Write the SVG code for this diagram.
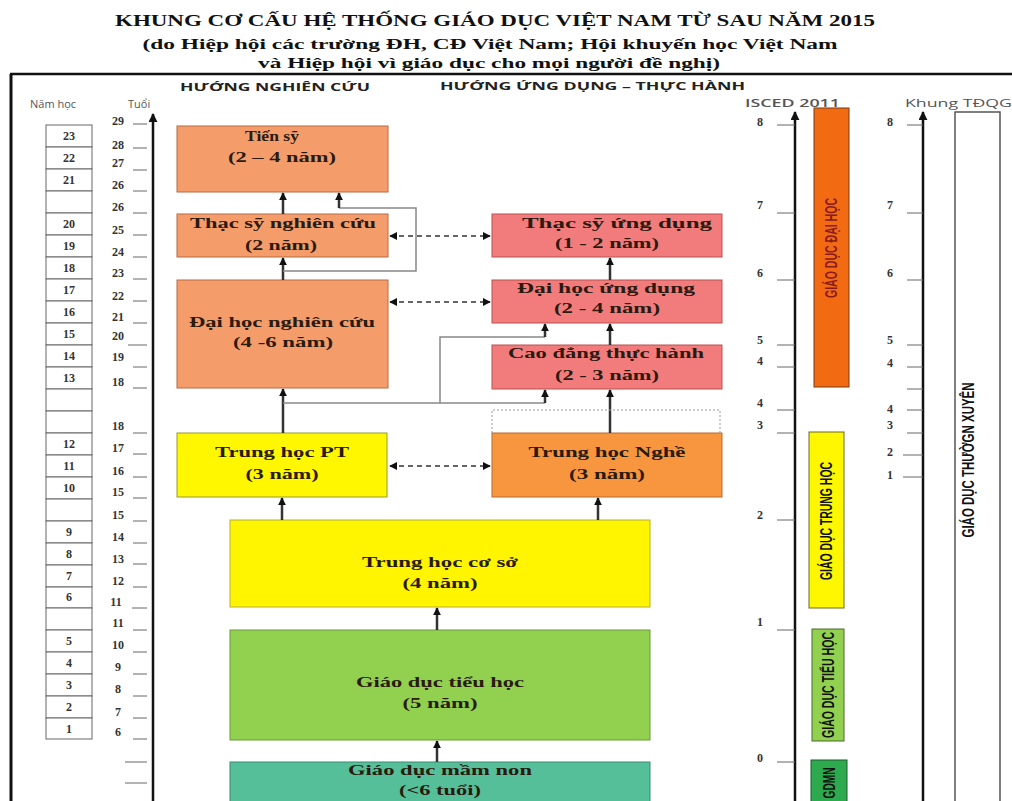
<svg xmlns="http://www.w3.org/2000/svg" width="1012" height="801" viewBox="0 0 1012 801">
<style>
.title{font-family:"Liberation Serif",serif;font-weight:bold;fill:#111}
.hdr{font-family:"Open Sans","Liberation Sans",sans-serif;font-weight:bold;font-size:11px;fill:#222}
.lbl{font-family:"Open Sans","Liberation Sans",sans-serif;font-size:11px;fill:#555}
.num{font-family:"Liberation Serif",serif;font-weight:bold;font-size:12px;fill:#333;text-anchor:middle}
.bt{font-family:"Liberation Serif",serif;font-weight:bold;font-size:15px;fill:#2a1a10;text-anchor:middle}
.vt{font-family:"Liberation Sans Narrow","Liberation Sans",sans-serif;font-weight:bold;font-size:16px;text-anchor:middle}
.tick{stroke:#666;stroke-width:1}
.axis{stroke:#111;stroke-width:2.5;fill:none}
.cell{fill:#fff;stroke:#666;stroke-width:1}
.conn{stroke:#333;stroke-width:2.5;fill:none}
.by{stroke:#888;stroke-width:1.5;fill:none}
.dash{stroke:#333;stroke-width:1.5;stroke-dasharray:5,4;fill:none}
</style>
<defs>
<marker id="ah" viewBox="0 0 10 10" refX="9" refY="5" markerWidth="8" markerHeight="8" markerUnits="userSpaceOnUse" orient="auto-start-reverse"><path d="M0,0 L10,5 L0,10 z" fill="#111"/></marker>
<marker id="ax" viewBox="0 0 10 10" refX="9" refY="5" markerWidth="9" markerHeight="9" markerUnits="userSpaceOnUse" orient="auto"><path d="M0,0 L10,5 L0,10 z" fill="#111"/></marker>
</defs>
<rect width="1012" height="801" fill="#fff"/>
<g id="title">
<text class="title" x="495" y="26" font-size="16.5" text-anchor="middle" textLength="760" lengthAdjust="spacingAndGlyphs">KHUNG CƠ CẤU HỆ THỐNG GIÁO DỤC VIỆT NAM TỪ SAU NĂM 2015</text>
<text class="title" x="490" y="49" font-size="15.5" text-anchor="middle" textLength="695" lengthAdjust="spacingAndGlyphs">(do Hiệp hội các trường ĐH, CĐ Việt Nam; Hội khuyến học Việt Nam</text>
<text class="title" x="489" y="68" font-size="15.5" text-anchor="middle" textLength="462" lengthAdjust="spacingAndGlyphs">và Hiệp hội vì giáo dục cho mọi người đề nghị)</text>
</g>
<g id="frame">
<line x1="10" y1="74" x2="1012" y2="74" stroke="#111" stroke-width="2.5"/>
<line x1="11" y1="74" x2="11" y2="801" stroke="#111" stroke-width="3"/>
</g>
<g id="headers">
<text class="hdr" x="180" y="91" textLength="190" lengthAdjust="spacingAndGlyphs">HƯỚNG NGHIÊN CỨU</text>
<text class="hdr" x="440" y="90" textLength="305" lengthAdjust="spacingAndGlyphs">HƯỚNG ỨNG DỤNG – THỰC HÀNH</text>
<text class="lbl" x="30" y="108">Năm học</text>
<text class="lbl" x="128" y="108">Tuổi</text>
<text class="lbl" x="745" y="107" font-weight="600" textLength="95" lengthAdjust="spacingAndGlyphs">ISCED 2011</text>
<text class="lbl" x="905" y="107" textLength="107" lengthAdjust="spacingAndGlyphs">Khung TĐQG</text>
</g>
<g id="nam-hoc">
<rect class="cell" x="46" y="125" width="46" height="22"/><text class="num" x="69" y="140">23</text>
<rect class="cell" x="46" y="147" width="46" height="22"/><text class="num" x="69" y="162">22</text>
<rect class="cell" x="46" y="169" width="46" height="22"/><text class="num" x="69" y="184">21</text>
<rect class="cell" x="46" y="191" width="46" height="22"/>
<rect class="cell" x="46" y="213" width="46" height="22"/><text class="num" x="69" y="228">20</text>
<rect class="cell" x="46" y="235" width="46" height="22"/><text class="num" x="69" y="250">19</text>
<rect class="cell" x="46" y="257" width="46" height="22"/><text class="num" x="69" y="272">18</text>
<rect class="cell" x="46" y="279" width="46" height="22"/><text class="num" x="69" y="294">17</text>
<rect class="cell" x="46" y="301" width="46" height="22"/><text class="num" x="69" y="316">16</text>
<rect class="cell" x="46" y="323" width="46" height="22"/><text class="num" x="69" y="338">15</text>
<rect class="cell" x="46" y="345" width="46" height="22"/><text class="num" x="69" y="360">14</text>
<rect class="cell" x="46" y="367" width="46" height="22"/><text class="num" x="69" y="382">13</text>
<rect class="cell" x="46" y="389" width="46" height="22"/>
<rect class="cell" x="46" y="411" width="46" height="22"/>
<rect class="cell" x="46" y="433" width="46" height="22"/><text class="num" x="69" y="448">12</text>
<rect class="cell" x="46" y="455" width="46" height="22"/><text class="num" x="69" y="470">11</text>
<rect class="cell" x="46" y="477" width="46" height="22"/><text class="num" x="69" y="492">10</text>
<rect class="cell" x="46" y="499" width="46" height="22"/>
<rect class="cell" x="46" y="521" width="46" height="22"/><text class="num" x="69" y="536">9</text>
<rect class="cell" x="46" y="543" width="46" height="22"/><text class="num" x="69" y="558">8</text>
<rect class="cell" x="46" y="565" width="46" height="22"/><text class="num" x="69" y="580">7</text>
<rect class="cell" x="46" y="587" width="46" height="21"/><text class="num" x="69" y="601">6</text>
<rect class="cell" x="46" y="608" width="46" height="22"/>
<rect class="cell" x="46" y="630" width="46" height="22"/><text class="num" x="69" y="645">5</text>
<rect class="cell" x="46" y="652" width="46" height="22"/><text class="num" x="69" y="667">4</text>
<rect class="cell" x="46" y="674" width="46" height="22"/><text class="num" x="69" y="689">3</text>
<rect class="cell" x="46" y="696" width="46" height="22"/><text class="num" x="69" y="711">2</text>
<rect class="cell" x="46" y="718" width="46" height="21"/><text class="num" x="69" y="733">1</text>
</g>
<g id="tuoi-axis">
<line class="axis" x1="153" y1="801" x2="153" y2="114" marker-end="url(#ax)"/>
<g class="num">
<text x="118" y="125">29</text><text x="118" y="149">28</text><text x="118" y="167">27</text><text x="118" y="189">26</text>
<text x="118" y="211">26</text><text x="118" y="234">25</text><text x="118" y="256">24</text><text x="118" y="277">23</text>
<text x="118" y="300">22</text><text x="118" y="321">21</text><text x="118" y="340">20</text><text x="118" y="361">19</text>
<text x="118" y="386">18</text><text x="118" y="430">18</text><text x="118" y="452">17</text><text x="118" y="475">16</text>
<text x="118" y="496">15</text><text x="118" y="519">15</text><text x="118" y="541">14</text><text x="118" y="563">13</text>
<text x="118" y="585">12</text><text x="116" y="606">11</text><text x="118" y="627">11</text><text x="118" y="649">10</text>
<text x="118" y="671">9</text><text x="118" y="693">8</text><text x="118" y="716">7</text><text x="118" y="736">6</text>
</g>
<g class="tick">
<line x1="133" y1="124" x2="147" y2="124"/><line x1="133" y1="148" x2="147" y2="148"/><line x1="133" y1="170" x2="147" y2="170"/>
<line x1="133" y1="191" x2="147" y2="191"/><line x1="133" y1="213" x2="147" y2="213"/><line x1="133" y1="235" x2="147" y2="235"/>
<line x1="133" y1="257" x2="147" y2="257"/><line x1="133" y1="279" x2="147" y2="279"/><line x1="133" y1="301" x2="147" y2="301"/>
<line x1="133" y1="323" x2="147" y2="323"/><line x1="128" y1="345" x2="147" y2="345"/><line x1="133" y1="367" x2="147" y2="367"/>
<line x1="133" y1="388" x2="147" y2="388"/><line x1="133" y1="433" x2="147" y2="433"/><line x1="133" y1="454" x2="147" y2="454"/>
<line x1="133" y1="477" x2="147" y2="477"/><line x1="133" y1="498" x2="147" y2="498"/><line x1="133" y1="521" x2="147" y2="521"/>
<line x1="133" y1="543" x2="147" y2="543"/><line x1="133" y1="564" x2="147" y2="564"/><line x1="133" y1="587" x2="147" y2="587"/>
<line x1="132" y1="608" x2="147" y2="608"/><line x1="133" y1="630" x2="147" y2="630"/><line x1="133" y1="652" x2="147" y2="652"/>
<line x1="133" y1="674" x2="147" y2="674"/><line x1="133" y1="696" x2="147" y2="696"/><line x1="133" y1="718" x2="147" y2="718"/>
<line x1="133" y1="739" x2="147" y2="739"/><line x1="125" y1="762" x2="147" y2="762"/><line x1="125" y1="783" x2="147" y2="783"/>
</g>
</g>
<g id="tien-sy"><rect x="177" y="126" width="211" height="66" fill="#F49D6B" stroke="#B86A45"/><text class="bt" x="272" y="141" textLength="54" lengthAdjust="spacingAndGlyphs">Tiến sỹ</text><text class="bt" x="282" y="162" textLength="108" lengthAdjust="spacingAndGlyphs">(2 – 4 năm)</text></g>
<g id="thac-sy-nc"><rect x="177" y="214" width="211" height="43" fill="#F49D6B" stroke="#B86A45"/><text class="bt" x="283" y="228" textLength="186" lengthAdjust="spacingAndGlyphs">Thạc sỹ nghiên cứu</text><text class="bt" x="281" y="250" textLength="72" lengthAdjust="spacingAndGlyphs">(2 năm)</text></g>
<g id="dai-hoc-nc"><rect x="177" y="280" width="211" height="108" fill="#F49D6B" stroke="#B86A45"/><text class="bt" x="282" y="327" textLength="186" lengthAdjust="spacingAndGlyphs">Đại học nghiên cứu</text><text class="bt" x="283" y="347" textLength="100" lengthAdjust="spacingAndGlyphs">(4 -6 năm)</text></g>
<g id="thac-sy-ud"><rect x="492" y="214" width="230" height="43" fill="#F27C7C" stroke="#B85050"/><text class="bt" x="617" y="228" textLength="190" lengthAdjust="spacingAndGlyphs">Thạc sỹ ứng dụng</text><text class="bt" x="607" y="248" textLength="104" lengthAdjust="spacingAndGlyphs">(1 - 2 năm)</text></g>
<g id="dai-hoc-ud"><rect x="492" y="280" width="230" height="43" fill="#F27C7C" stroke="#B85050"/><text class="bt" x="606" y="293" textLength="178" lengthAdjust="spacingAndGlyphs">Đại học ứng dụng</text><text class="bt" x="607" y="313" textLength="106" lengthAdjust="spacingAndGlyphs">(2 - 4 năm)</text></g>
<g id="cao-dang"><rect x="492" y="345" width="230" height="44" fill="#F27C7C" stroke="#B85050"/><text class="bt" x="606" y="358" textLength="196" lengthAdjust="spacingAndGlyphs">Cao đẳng thực hành</text><text class="bt" x="607" y="380" textLength="104" lengthAdjust="spacingAndGlyphs">(2 - 3 năm)</text></g>
<g id="trung-hoc-pt"><rect x="177" y="433" width="210" height="64" fill="#FFF700" stroke="#9A9A30"/><text class="bt" x="282" y="457" textLength="134" lengthAdjust="spacingAndGlyphs">Trung học PT</text><text class="bt" x="282" y="479" textLength="73" lengthAdjust="spacingAndGlyphs">(3 năm)</text></g>
<g id="trung-hoc-nghe"><rect x="492" y="433" width="230" height="64" fill="#F7963E" stroke="#B86A30"/><text class="bt" x="607" y="457" textLength="157" lengthAdjust="spacingAndGlyphs">Trung học Nghề</text><text class="bt" x="607" y="479" textLength="76" lengthAdjust="spacingAndGlyphs">(3 năm)</text></g>
<g id="thcs"><rect x="230" y="520" width="420" height="87" fill="#FFF500" stroke="#B8B030"/><text class="bt" x="440" y="567" textLength="156" lengthAdjust="spacingAndGlyphs">Trung học cơ sở</text><text class="bt" x="440" y="588" textLength="75" lengthAdjust="spacingAndGlyphs">(4 năm)</text></g>
<g id="tieu-hoc"><rect x="230" y="630" width="420" height="110" fill="#92D050" stroke="#6A9A3A"/><text class="bt" x="440" y="687" textLength="168" lengthAdjust="spacingAndGlyphs">Giáo dục tiểu học</text><text class="bt" x="440" y="708" textLength="75" lengthAdjust="spacingAndGlyphs">(5 năm)</text></g>
<g id="mam-non"><rect x="230" y="762" width="420" height="45" fill="#54BF98" stroke="#3A8A70"/><text class="bt" x="440" y="775" textLength="184" lengthAdjust="spacingAndGlyphs">Giáo dục mầm non</text><text class="bt" x="440" y="795" textLength="82" lengthAdjust="spacingAndGlyphs">(&lt;6 tuổi)</text></g>
<g id="connectors">
<line class="conn" x1="283" y1="214" x2="283" y2="193" marker-end="url(#ah)"/>
<line class="conn" x1="283" y1="280" x2="283" y2="258" marker-end="url(#ah)"/>
<line class="conn" x1="283" y1="433" x2="283" y2="389" marker-end="url(#ah)"/>
<line class="conn" x1="610" y1="280" x2="610" y2="258" marker-end="url(#ah)"/>
<line class="conn" x1="610" y1="345" x2="610" y2="324" marker-end="url(#ah)"/>
<line class="conn" x1="610" y1="433" x2="610" y2="390" marker-end="url(#ah)"/>
<line class="conn" x1="282" y1="520" x2="282" y2="498" marker-end="url(#ah)"/>
<line class="conn" x1="598" y1="520" x2="598" y2="498" marker-end="url(#ah)"/>
<line class="conn" x1="437" y1="630" x2="437" y2="608" marker-end="url(#ah)"/>
<line class="conn" x1="437" y1="762" x2="437" y2="741" marker-end="url(#ah)"/>
<path class="by" d="M283,271 H416 V208 H339"/>
<line class="conn" x1="339" y1="208" x2="339" y2="193" marker-end="url(#ah)"/>
<path class="by" d="M283,403 H545"/>
<line class="conn" x1="545" y1="403" x2="545" y2="390" marker-end="url(#ah)"/>
<path class="by" d="M440,403 V337 H545"/>
<line class="conn" x1="545" y1="337" x2="545" y2="324" marker-end="url(#ah)"/>
<line class="dash" x1="390" y1="236" x2="490" y2="236" marker-start="url(#ah)" marker-end="url(#ah)"/>
<line class="dash" x1="390" y1="302" x2="490" y2="302" marker-start="url(#ah)" marker-end="url(#ah)"/>
<line class="dash" x1="390" y1="466" x2="490" y2="466" marker-start="url(#ah)" marker-end="url(#ah)"/>
<path d="M492,433 V410 H720 V433" fill="none" stroke="#999" stroke-width="1" stroke-dasharray="2,2"/>
</g>
<g id="isced">
<line class="axis" x1="795" y1="801" x2="795" y2="112" marker-end="url(#ax)"/>
<g class="num">
<text x="760" y="126">8</text><text x="760" y="209">7</text><text x="760" y="277">6</text><text x="760" y="344">5</text>
<text x="760" y="365">4</text><text x="760" y="407">4</text><text x="760" y="429">3</text><text x="760" y="519">2</text>
<text x="760" y="626">1</text><text x="760" y="762">0</text>
</g>
<g class="tick">
<line x1="777" y1="125" x2="795" y2="125"/><line x1="777" y1="213" x2="795" y2="213"/><line x1="777" y1="280" x2="795" y2="280"/>
<line x1="777" y1="345" x2="795" y2="345"/><line x1="777" y1="367" x2="795" y2="367"/><line x1="777" y1="410" x2="795" y2="410"/>
<line x1="777" y1="433" x2="795" y2="433"/><line x1="777" y1="520" x2="795" y2="520"/><line x1="777" y1="630" x2="795" y2="630"/>
<line x1="777" y1="762" x2="795" y2="762"/>
</g>
</g>
<g id="gd-dai-hoc"><rect x="814" y="108" width="35" height="279" fill="#F26B12" stroke="#7A3A10"/><text class="vt" transform="translate(837,248) rotate(-90)" fill="#8B1A1A" textLength="100" lengthAdjust="spacingAndGlyphs">GIÁO DỤC ĐẠI HỌC</text></g>
<g id="gd-trung-hoc"><rect x="809" y="432" width="35" height="176" fill="#FFF700" stroke="#6A6A20"/><text class="vt" transform="translate(832,521) rotate(-90)" fill="#111" textLength="118" lengthAdjust="spacingAndGlyphs">GIÁO DỤC TRUNG HỌC</text></g>
<g id="gd-tieu-hoc"><rect x="812" y="629" width="32" height="112" fill="#92D050" stroke="#4A6A2A"/><text class="vt" transform="translate(834,685) rotate(-90)" fill="#111" textLength="106" lengthAdjust="spacingAndGlyphs">GIÁO DỤC TIỂU HỌC</text></g>
<g id="gdmn"><rect x="811" y="760" width="36" height="50" fill="#2EAA4E" stroke="#1A5A2A"/><text class="vt" transform="translate(835,783) rotate(-90)" fill="#111" textLength="31" lengthAdjust="spacingAndGlyphs">GDMN</text></g>
<g id="khung">
<line class="axis" x1="923" y1="801" x2="923" y2="112" marker-end="url(#ax)"/>
<g class="num">
<text x="890" y="126">8</text><text x="890" y="209">7</text><text x="890" y="277">6</text><text x="890" y="344">5</text>
<text x="890" y="367">4</text><text x="890" y="413">4</text><text x="890" y="429">3</text><text x="890" y="456">2</text>
<text x="890" y="479">1</text>
</g>
<g class="tick">
<line x1="907" y1="125" x2="923" y2="125"/><line x1="907" y1="213" x2="923" y2="213"/><line x1="907" y1="280" x2="923" y2="280"/>
<line x1="907" y1="345" x2="923" y2="345"/><line x1="907" y1="367" x2="923" y2="367"/><line x1="907" y1="389" x2="923" y2="389"/>
<line x1="907" y1="410" x2="923" y2="410"/><line x1="907" y1="433" x2="923" y2="433"/><line x1="903" y1="455" x2="923" y2="455"/>
<line x1="903" y1="477" x2="923" y2="477"/>
</g>
</g>
<g id="gd-thuong-xuyen"><rect x="955" y="112" width="45" height="700" fill="#fff" stroke="#555" stroke-width="1.5"/><text class="vt" transform="translate(974,460) rotate(-90)" fill="#111" textLength="155" lengthAdjust="spacingAndGlyphs">GIÁO DỤC THƯỜGN XUYÊN</text></g>
</svg>
